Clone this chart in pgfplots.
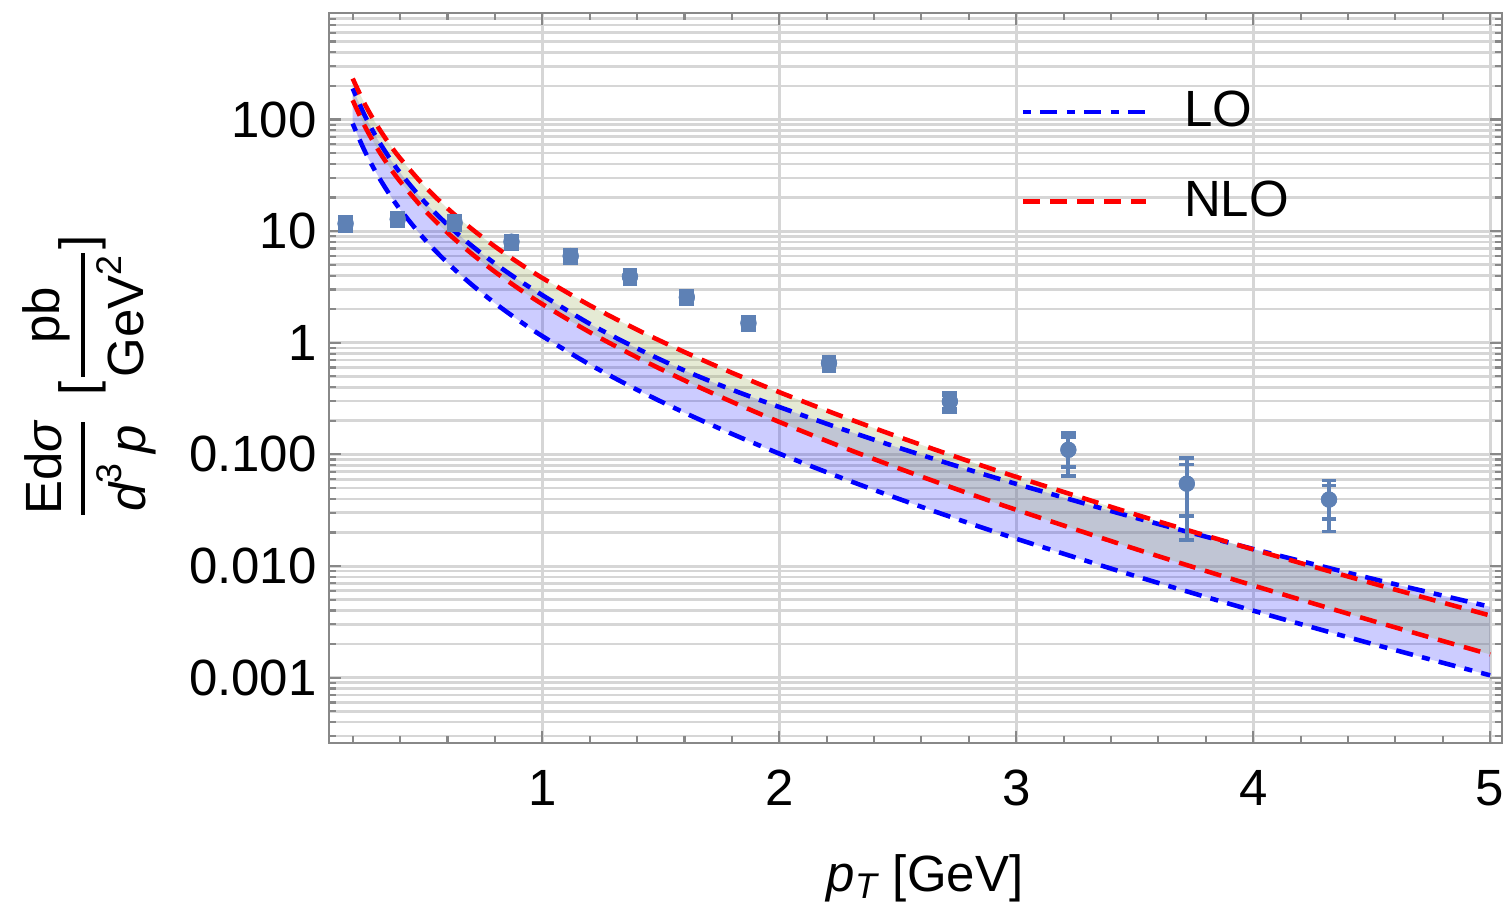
\documentclass[border=0pt]{standalone}
\usepackage{fontspec}
\setmainfont{Liberation Sans}
\usepackage{amsmath}
\usepackage{pgfplots}
\pgfplotsset{compat=1.18}
\usepgfplotslibrary{fillbetween}

\definecolor{datablue}{RGB}{94,129,181}
\definecolor{nlofill}{RGB}{162,178,100}
\definecolor{gridgray}{RGB}{214,214,214}
\definecolor{framegray}{RGB}{136,136,136}
\newcommand{\fs}{\fontsize{14.5pt}{17pt}\selectfont}

% LO / NLO bands (upper and lower edges)
\pgfplotstableread{
x     lohi      lolo      nlohi     nlolo
0.20  189.8     91.9      232.8     148.9
0.25  109.5     52.6      138.9     88.0
0.30  69.4      33.1      90.4      56.8
0.35  47.0      22.23     62.4      38.9
0.40  33.4      15.66     45.0      27.9
0.50  18.62     8.605     25.7      15.73
0.60  11.42     5.197     16.0      9.685
0.70  7.47      3.351     10.57     6.333
0.80  5.13      2.266     7.29      4.329
0.90  3.650     1.590     5.20      3.060
1.00  2.673     1.148     3.81      2.222
1.20  1.48      0.6389    2.168     1.244
1.40  0.89      0.3796    1.310     0.7404
1.60  0.565     0.2365    0.8264    0.4603
1.80  0.380     0.1529    0.5393    0.2960
2.00  0.266     0.1017    0.3612    0.1955
2.25  0.1730    0.06312   0.2254    0.1200
2.50  0.1155    0.04030   0.1444    0.07563
2.75  0.0786    0.02636   0.09454   0.04868
3.00  0.05444   0.01757   0.06296   0.03191
3.50  0.02717   0.008171  0.02913   0.01430
4.00  0.01422   0.003985  0.01408   0.006700
4.50  0.007722  0.002015  0.007035  0.003246
5.00  0.004315  0.001050  0.003606  0.001615
}\curves

% data points: value, inner and outer error
\pgfplotstableread{
x     y       ein      eout
0.17  11.7    1.05     1.6
0.39  12.8    1.15     1.8
0.63  11.9    1.07     1.65
0.87  8.04    0.72     1.1
1.12  5.98    0.54     0.83
1.37  3.91    0.35     0.55
1.61  2.56    0.23     0.36
1.87  1.50    0.135    0.21
2.21  0.658   0.06     0.095
2.72  0.298   0.04     0.06
3.22  0.110   0.0335   0.046
3.72  0.0547  0.0265   0.0375
4.32  0.0394  0.0132   0.019
}\pidata

\begin{document}
\begin{tikzpicture}
\begin{axis}[
    at={(0,0)}, anchor=south west,
    scale only axis, width=11.73cm, height=7.30cm,
    set layers,
    ymode=log,
    xmin=0.1, xmax=5.05, ymin=2.6e-4, ymax=900,
    xtick={1,2,3,4,5}, xticklabels={1,2,3,4,5},
    minor xtick={0.2,0.4,0.6,0.8,1.2,1.4,1.6,1.8,2.2,2.4,2.6,2.8,3.2,3.4,3.6,3.8,4.2,4.4,4.6,4.8},
    ytick={0.001,0.01,0.1,1,10,100},
    yticklabels={0.001,0.010,0.100,1,10,100},
    minor ytick={3e-4,4e-4,5e-4,6e-4,7e-4,8e-4,9e-4,
      2e-3,3e-3,4e-3,5e-3,6e-3,7e-3,8e-3,9e-3,
      0.02,0.03,0.04,0.05,0.06,0.07,0.08,0.09,
      0.2,0.3,0.4,0.5,0.6,0.7,0.8,0.9,
      2,3,4,5,6,7,8,9,
      20,30,40,50,60,70,80,90,
      200,300,400,500,600,700,800,900},
    xmajorgrids, ymajorgrids, yminorgrids,
    major grid style={draw=gridgray, line width=0.85pt},
    minor grid style={draw=gridgray, line width=0.75pt},
    axis line style={draw=framegray, line width=0.6pt},
    tick style={draw=framegray, line width=0.6pt},
    tick align=inside,
    major tick length=0.12cm, minor tick length=0.07cm,
    tick label style={font=\fs},
    xticklabel style={yshift=-0.15cm},
    legend style={at={(0.589,0.921)}, anchor=north west, draw=none, fill=none,
      font=\fs, inner sep=0pt, row sep=0.09cm, nodes={inner sep=0.2cm},
      cells={anchor=west}},
    legend image code/.code={\draw[#1] (0cm,0cm) -- (1.23cm,0cm); \path (1.39cm,0cm);},
]
\addlegendimage{blue, line width=1.3pt, dash pattern=on 0.08cm off 0.093cm on 0.173cm off 0.093cm}
\addlegendentry{LO}
\addlegendimage{red, line width=1.3pt, dash pattern=on 0.17cm off 0.1cm}
\addlegendentry{NLO}

\addplot[blue, line width=1.3pt, smooth, dash pattern=on 0.08cm off 0.093cm on 0.173cm off 0.093cm,
    name path=lohi, forget plot] table[x=x, y=lohi] {\curves};
\addplot[blue, line width=1.3pt, smooth, dash pattern=on 0.08cm off 0.093cm on 0.173cm off 0.093cm,
    name path=lolo, forget plot] table[x=x, y=lolo] {\curves};
\addplot[red, line width=1.3pt, smooth, dash pattern=on 0.17cm off 0.1cm,
    name path=nlohi, forget plot] table[x=x, y=nlohi] {\curves};
\addplot[red, line width=1.3pt, smooth, dash pattern=on 0.17cm off 0.1cm,
    name path=nlolo, forget plot] table[x=x, y=nlolo] {\curves};

\addplot[blue, fill opacity=0.2, forget plot] fill between[of=lohi and lolo];
\addplot[nlofill, fill opacity=0.28, forget plot] fill between[of=nlohi and nlolo];

% data with two sets of error bars
\addplot[datablue, only marks, mark=*, mark size=2.1pt, forget plot,
    error bars/.cd, y dir=both, y explicit,
    error bar style={line width=1.1pt, datablue},
    error mark options={datablue, line width=1.1pt, mark size=2.1pt, rotate=90}]
    table[x=x, y=y, y error=eout] {\pidata};
\addplot[datablue, only marks, mark=*, mark size=2.1pt, forget plot,
    error bars/.cd, y dir=both, y explicit,
    error bar style={line width=1.1pt, datablue},
    error mark options={datablue, line width=1.1pt, mark size=2.1pt, rotate=90}]
    table[x=x, y=y, y error=ein] {\pidata};
\end{axis}

\node[font=\fs] at (5.96,-1.35) {\textit{p}$_{\textit{T}}$ [GeV]};
\node[font=\fs, rotate=90] at (-2.40,3.66)
  {$\genfrac{}{}{1.1pt}{0}{\text{Ed}\textit{σ}}{\textit{d}^{\text{3}}\,\textit{p}}\hspace{0.22cm}\text{[}\genfrac{}{}{1.1pt}{0}{\text{pb}}{\text{GeV}^{\text{2}}}\text{]}$};
\pgfresetboundingbox
\useasboundingbox (-3.29,-1.64) rectangle (11.75,7.43);
\end{tikzpicture}
\end{document}
